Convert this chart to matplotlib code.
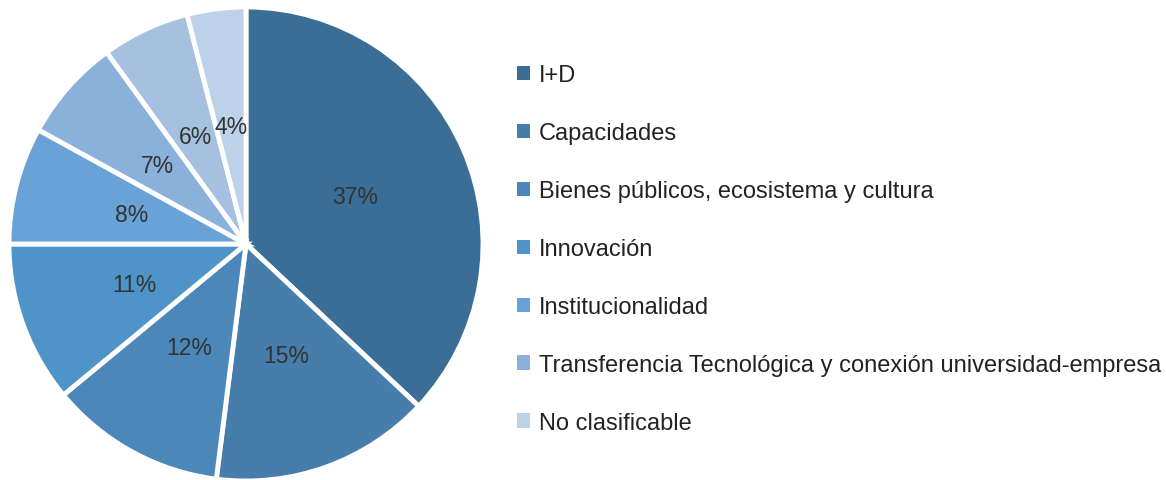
import matplotlib.pyplot as plt
from matplotlib.patches import Patch

plt.rcParams['font.family'] = ['Liberation Sans', 'DejaVu Sans']

# datos del grafico
categorias = ['I+D', 'Capacidades', 'Bienes públicos, ecosistema y cultura',
              'Innovación', 'Institucionalidad',
              'Transferencia Tecnológica y conexión universidad-empresa',
              '', 'No clasificable']
valores = [37, 15, 12, 11, 8, 7, 6, 4]
colores = ['#3a6e97', '#467dab', '#4b87b8', '#4f94c9', '#69a2d6',
           '#8ab1da', '#a6c1e0', '#bdd1e9']
en_leyenda = [0, 1, 2, 3, 4, 5, 7]

fig = plt.figure(figsize=(11.66, 4.81), dpi=100)
ax = fig.add_axes([9 / 1166, -1 / 481, 474 / 1166, 474 / 481])

wedges, texts, autotexts = ax.pie(
    valores, colors=colores, startangle=90, counterclock=False,
    autopct='%1.0f%%', pctdistance=0.5,
    wedgeprops=dict(edgecolor='white', linewidth=3.5),
    textprops=dict(color='#333333', fontsize=16.5))
ax.set_xlim(-1.0, 1.0)
ax.set_ylim(-1.0, 1.0)
ax.set_aspect('equal')

handles = [Patch(facecolor=colores[i], edgecolor='none') for i in en_leyenda]
labels = [categorias[i] for i in en_leyenda]
fig.legend(handles, labels, loc='upper left', bbox_to_anchor=(508 / 1166, 1 - 56 / 481),
           frameon=False, fontsize=17, handlelength=0.55, handleheight=0.55,
           handletextpad=0.35, labelspacing=1.52, borderaxespad=0,
           labelcolor='#222222')

fig.savefig('out.png', dpi=100)
